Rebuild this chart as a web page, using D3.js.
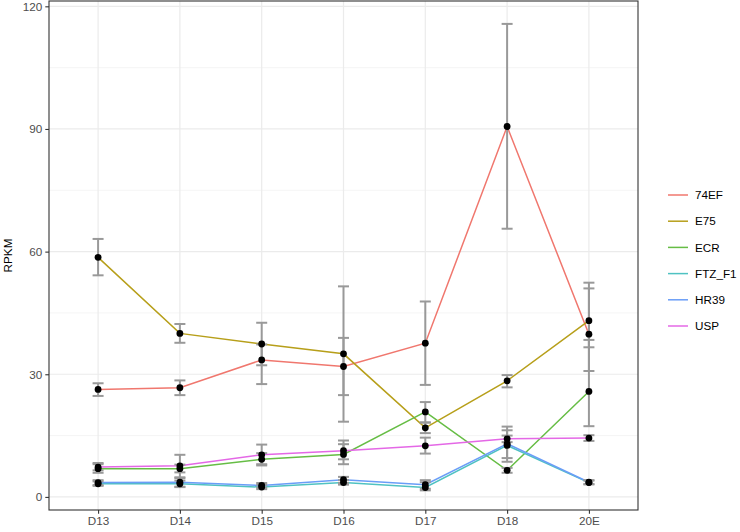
<!DOCTYPE html>
<html>
<head>
<meta charset="utf-8">
<script src="https://cdn.jsdelivr.net/npm/d3@7"></script>
<style>
  body { margin: 0; background: #fff; }
  svg { display: block; font-family: "Liberation Sans", Arial, sans-serif; }
</style>
</head>
<body>
<div id="container"></div>
<script>
// les catégories (stades) et les séries
const stages = ["D13", "D14", "D15", "D16", "D17", "D18", "20E"];
const genes = ["74EF", "E75", "ECR", "FTZ_F1", "HR39", "USP"];
const colors = ["#F0776E", "#B79F1A", "#66BD45", "#4FC2C2", "#6A9DF7", "#E468E6"];

// valeurs moyennes (RPKM)
const v74EF  = [26.3, 26.7, 33.5, 31.9, 37.6, 90.6, 39.8];
const vE75   = [58.6, 40.0, 37.4, 35.0, 16.9, 28.4, 43.1];
const vECR   = [6.9, 6.9, 9.2, 10.4, 20.8, 6.5, 25.8];
const vFTZ   = [3.2, 3.2, 2.4, 3.5, 2.3, 12.6, 3.5];
const vHR39  = [3.5, 3.6, 2.8, 4.2, 3.0, 13.0, 3.6];
const vUSP   = [7.3, 7.6, 10.3, 11.3, 12.5, 14.2, 14.4];

// bornes des barres d'erreur (min, max)
const lo74EF = [24.7, 24.9, 27.6, 18.4, 27.4, 65.6, 30.8];
const hi74EF = [27.8, 28.5, 37.3, 51.5, 47.8, 115.7, 51.0];
const loE75  = [54.2, 37.7, 32.2, 24.9, 15.6, 26.8, 36.6];
const hiE75  = [63.1, 42.3, 42.6, 38.9, 18.2, 29.8, 52.4];
const loECR  = [5.9, 6.0, 7.7, 8.0, 18.2, 5.9, 17.3];
const hiECR  = [8.0, 7.9, 10.7, 12.9, 23.2, 7.1, 38.4];
const loFTZ  = [2.7, 2.5, 1.9, 3.0, 1.6, 9.5, 3.1];
const hiFTZ  = [3.8, 4.0, 3.0, 4.1, 3.6, 16.3, 4.0];
const loHR39 = [2.9, 2.4, 2.3, 3.4, 2.0, 8.6, 3.1];
const hiHR39 = [4.1, 4.6, 3.4, 4.9, 4.1, 17.2, 4.1];
const loUSP  = [6.5, 4.8, 8.0, 9.2, 10.6, 13.4, 13.7];
const hiUSP  = [8.3, 10.3, 12.8, 13.8, 14.5, 15.0, 15.1];

const yTicks = [0, 30, 60, 90, 120];
const yMinor = [15, 45, 75, 105];

const series = [
  {gene: genes[0], v: v74EF, lo: lo74EF, hi: hi74EF},
  {gene: genes[1], v: vE75,  lo: loE75,  hi: hiE75},
  {gene: genes[2], v: vECR,  lo: loECR,  hi: hiECR},
  {gene: genes[3], v: vFTZ,  lo: loFTZ,  hi: hiFTZ},
  {gene: genes[4], v: vHR39, lo: loHR39, hi: hiHR39},
  {gene: genes[5], v: vUSP,  lo: loUSP,  hi: hiUSP},
];

const width = 740, height = 532;
const panel = {left: 49, right: 638, top: 1, bottom: 510};

const x = d3.scalePoint().domain(stages)
  .range([panel.left, panel.right]).padding(0.6);
const y = d3.scaleLinear().domain([-3.2, 121.3])
  .range([panel.bottom, panel.top]);
const color = d3.scaleOrdinal().domain(genes).range(colors);

const svg = d3.create("svg").attr("width", width).attr("height", height);

// grille
const grid = svg.append("g");
grid.selectAll(".minor").data(yMinor).join("line")
  .attr("x1", panel.left).attr("x2", panel.right)
  .attr("y1", d => y(d)).attr("y2", d => y(d))
  .attr("stroke", "#f2f2f2").attr("stroke-width", 0.8);
grid.selectAll(".major").data(yTicks).join("line")
  .attr("x1", panel.left).attr("x2", panel.right)
  .attr("y1", d => y(d)).attr("y2", d => y(d))
  .attr("stroke", "#ebebeb").attr("stroke-width", 1.2);
grid.selectAll(".vx").data(stages).join("line")
  .attr("x1", d => x(d)).attr("x2", d => x(d))
  .attr("y1", panel.top).attr("y2", panel.bottom)
  .attr("stroke", "#ebebeb").attr("stroke-width", 1.2);

// lignes
const line = d3.line().x((d, i) => x(stages[i])).y(d => y(d));
svg.append("g").selectAll("path").data(series).join("path")
  .attr("d", d => line(d.v))
  .attr("fill", "none")
  .attr("stroke", d => color(d.gene))
  .attr("stroke-width", 1.5);

// barres d'erreur
const bars = series.flatMap(s => s.v.map((v, i) => ({stage: stages[i], lo: s.lo[i], hi: s.hi[i]})));
const eb = svg.append("g").attr("stroke", "#999").attr("stroke-width", 2);
eb.selectAll(".stem").data(bars).join("line")
  .attr("x1", d => x(d.stage)).attr("x2", d => x(d.stage))
  .attr("y1", d => y(d.lo)).attr("y2", d => y(d.hi));
eb.selectAll(".caplo").data(bars).join("line")
  .attr("x1", d => x(d.stage) - 5.5).attr("x2", d => x(d.stage) + 5.5)
  .attr("y1", d => y(d.lo)).attr("y2", d => y(d.lo));
eb.selectAll(".caphi").data(bars).join("line")
  .attr("x1", d => x(d.stage) - 5.5).attr("x2", d => x(d.stage) + 5.5)
  .attr("y1", d => y(d.hi)).attr("y2", d => y(d.hi));

// points
const pts = series.flatMap(s => s.v.map((v, i) => ({stage: stages[i], v: v})));
svg.append("g").selectAll("circle").data(pts).join("circle")
  .attr("cx", d => x(d.stage)).attr("cy", d => y(d.v))
  .attr("r", 3.4).attr("fill", "#000");

// cadre
svg.append("rect")
  .attr("x", panel.left).attr("y", panel.top)
  .attr("width", panel.right - panel.left).attr("height", panel.bottom - panel.top)
  .attr("fill", "none").attr("stroke", "#333").attr("stroke-width", 1.1);

// axes
const yAxis = svg.append("g").attr("transform", `translate(${panel.left},0)`)
  .call(d3.axisLeft(y).tickValues(yTicks).tickSize(3.7).tickPadding(3));
const xAxis = svg.append("g").attr("transform", `translate(0,${panel.bottom})`)
  .call(d3.axisBottom(x).tickSize(3.7).tickPadding(3));
[yAxis, xAxis].forEach(a => {
  a.select(".domain").remove();
  a.selectAll(".tick line").attr("stroke", "#333").attr("stroke-width", 1.1);
  a.selectAll(".tick text").attr("fill", "#4d4d4d")
    .style("font-size", "11.7px").style("font-family", "Liberation Sans, Arial, sans-serif");
});

svg.append("text")
  .attr("transform", `translate(12,${(panel.top + panel.bottom) / 2}) rotate(-90)`)
  .attr("text-anchor", "middle")
  .style("font-size", "11.7px")
  .text("RPKM");

// légende
const legend = svg.append("g").selectAll("g").data(genes).join("g")
  .attr("transform", (d, i) => `translate(668,${195 + i * 26.2})`);
legend.append("line")
  .attr("x1", 0).attr("x2", 20)
  .attr("stroke", d => color(d)).attr("stroke-width", 1.5);
legend.append("text")
  .attr("x", 27).attr("dy", "0.35em")
  .style("font-size", "11.7px")
  .text(d => d);

d3.select("#container").node().append(svg.node());
</script>
</body>
</html>
